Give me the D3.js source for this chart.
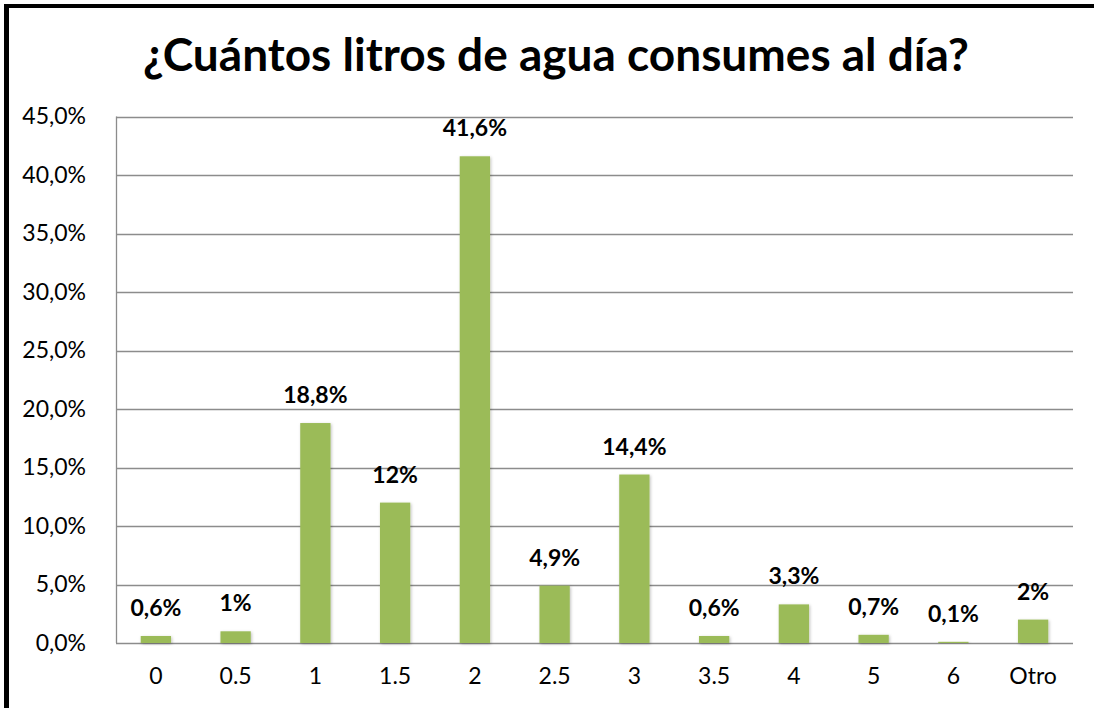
<!DOCTYPE html>
<html>
<head>
<meta charset="utf-8">
<script src="https://cdn.jsdelivr.net/npm/d3@7"></script>
<style>
  body { margin: 0; background: #fff; overflow: hidden; }
  svg { display: block; font-family: Lato, "Open Sans", sans-serif; }
</style>
</head>
<body>
<svg id="chart"></svg>
<script>
const categories = ["0", "0.5", "1", "1.5", "2", "2.5", "3", "3.5", "4", "5", "6", "Otro"];
const values = [0.6, 1, 18.8, 12, 41.6, 4.9, 14.4, 0.6, 3.3, 0.7, 0.1, 2];
const valueLabels = ["0,6%", "1%", "18,8%", "12%", "41,6%", "4,9%", "14,4%", "0,6%", "3,3%", "0,7%", "0,1%", "2%"];
const yTicks = [0, 5, 10, 15, 20, 25, 30, 35, 40, 45];
const title = "¿Cuántos litros de agua consumes al día?";

const width = 1094, height = 708;
const margin = { top: 116.5, right: 21, bottom: 65, left: 116 };

const svg = d3.select("#chart").attr("width", width).attr("height", height);

// soft shadow behind the bars
const defs = svg.append("defs");
const f = defs.append("filter").attr("id", "glow")
  .attr("x", "-30%").attr("y", "-30%").attr("width", "160%").attr("height", "160%");
f.append("feDropShadow").attr("dx", 1).attr("dy", 1).attr("stdDeviation", 1.5)
  .attr("flood-color", "#000").attr("flood-opacity", 0.25);

// outer frame, only top and left edges are in view
svg.append("line").attr("x1", 4).attr("x2", width).attr("y1", 6).attr("y2", 6)
  .attr("stroke", "#000").attr("stroke-width", 4);
svg.append("line").attr("x1", 6.5).attr("x2", 6.5).attr("y1", 4).attr("y2", height)
  .attr("stroke", "#000").attr("stroke-width", 5);

svg.append("text")
  .attr("x", 556).attr("y", 71)
  .attr("text-anchor", "middle")
  .style("font-size", "46px").style("font-weight", "bold")
  .text(title);

const x = d3.scaleBand()
  .domain(categories)
  .range([margin.left, width - margin.right])
  .paddingInner(0.62).paddingOuter(0.31);

const y = d3.scaleLinear()
  .domain([0, 45])
  .range([height - margin.bottom, margin.top]);

// gridlines
svg.append("g")
  .selectAll("line")
  .data(yTicks)
  .join("line")
  .attr("x1", margin.left).attr("x2", width - margin.right)
  .attr("y1", d => Math.round(y(d)) + 0.5).attr("y2", d => Math.round(y(d)) + 0.5)
  .attr("stroke", "#8c8c8c").attr("stroke-width", 1.3);

svg.append("line")
  .attr("x1", margin.left + 0.5).attr("x2", margin.left + 0.5)
  .attr("y1", y(45)).attr("y2", y(0))
  .attr("stroke", "#8c8c8c").attr("stroke-width", 1.3);

// y axis labels
const yAxis = svg.append("g")
  .attr("transform", `translate(${margin.left - 27},0)`)
  .call(d3.axisLeft(y).tickValues(yTicks).tickSize(0)
    .tickFormat(d => d3.format(".1f")(d).replace(".", ",") + "%"));
yAxis.select(".domain").remove();
yAxis.selectAll("text").style("font-size", "23px").attr("fill", "#000")
  .attr("font-family", "Lato, sans-serif");

// x axis labels
const xAxis = svg.append("g")
  .attr("transform", `translate(0,${height - margin.bottom + 22})`)
  .call(d3.axisBottom(x).tickSize(0));
xAxis.select(".domain").remove();
xAxis.selectAll("text").style("font-size", "23px").attr("fill", "#000")
  .attr("font-family", "Lato, sans-serif");

// bars
svg.append("g")
  .selectAll("rect")
  .data(values)
  .join("rect")
  .attr("x", (d, i) => x(categories[i]))
  .attr("y", d => y(d))
  .attr("width", x.bandwidth())
  .attr("height", d => y(0) - y(d))
  .attr("fill", "#9bbb59")
  .attr("filter", "url(#glow)");

// value labels
svg.append("g")
  .selectAll("text")
  .data(values)
  .join("text")
  .attr("x", (d, i) => x(categories[i]) + x.bandwidth() / 2)
  .attr("y", d => y(d) - 20)
  .attr("text-anchor", "middle")
  .style("font-size", "23px").style("font-weight", "bold")
  .text((d, i) => valueLabels[i]);
</script>
</body>
</html>
